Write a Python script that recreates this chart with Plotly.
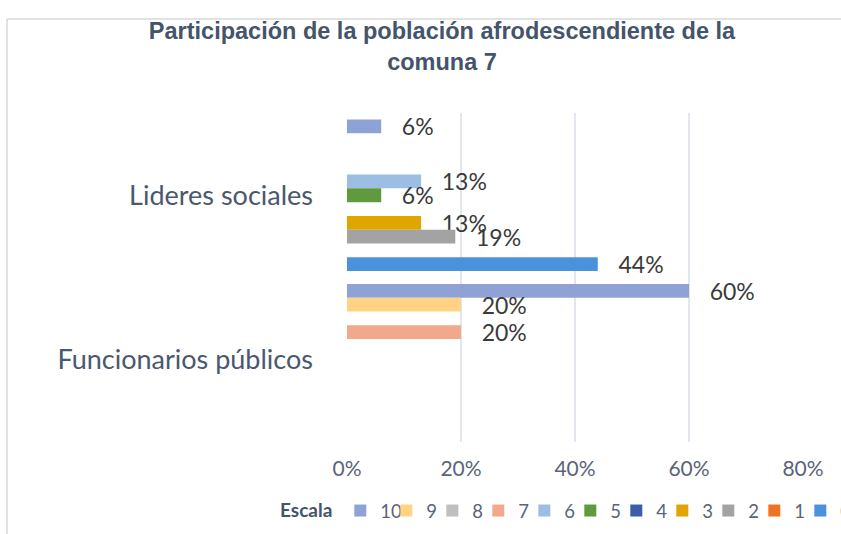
import plotly.graph_objects as go

categories = ["Lideres sociales", "Funcionarios públicos"]
series_names = ["10", "9", "8", "7", "6", "5", "4", "3", "2", "1", "0"]
lideres = [0.06, 0, 0, 0, 0.13, 0.06, 0, 0.13, 0.19, 0, 0.44]
funcionarios = [0.60, 0.20, 0, 0.20, 0, 0, 0, 0, 0, 0, 0]
colors = ["#8EA2D5", "#FFD383", "#BFBFBF", "#F2A88B", "#9CBEE3", "#5F9A3E",
          "#3A5EA9", "#E0A600", "#A3A3A3", "#EE7424", "#4A93DC"]
x_ticks = [0, 0.2, 0.4, 0.6, 0.8]
x_tick_labels = ["0%", "20%", "40%", "60%", "80%"]

W, H = 841, 534
ML, MR, MT, MB = 347, 38, 113, 92
PW, PH = W - ML - MR, H - MT - MB

def px_x(p):
    return (p - ML) / PW

def px_y(p):
    return (H - MB - p) / PH

fig = go.Figure()
for i, name in enumerate(series_names):
    vals = [lideres[i], funcionarios[i]]
    texts = ["   {:.0f}%".format(v * 100) if v > 0 else "" for v in vals]
    fig.add_trace(go.Bar(
        y=categories, x=vals, name=name, orientation="h",
        marker=dict(color=colors[i], line=dict(width=0)),
        text=texts, textposition="outside", constraintext="none",
        textfont=dict(family="Lato", size=23, color="#3A3A3A"),
        cliponaxis=False, hoverinfo="skip",
    ))

fig.update_layout(
    width=W, height=H,
    margin=dict(l=ML, r=MR, t=MT, b=MB, autoexpand=False),
    paper_bgcolor="white", plot_bgcolor="white",
    barmode="group", bargap=0.08, bargroupgap=0,
    title=dict(
        text="<b>Participación de la población afrodescendiente de la<br>comuna 7</b>",
        font=dict(family="Liberation Sans, Arial", size=23.5, color="#44546A"),
        x=442 / W, xanchor="center", xref="container",
        y=1 - 39 / H, yanchor="top", yref="container",
    ),
    xaxis=dict(
        range=[0, 0.8], tickvals=x_ticks, ticktext=x_tick_labels,
        showgrid=True, gridcolor="#E1E6EF", gridwidth=1.5,
        zeroline=False, showline=False,
        tickfont=dict(family="Lato", size=21, color="#5A6478"),
        ticklabelstandoff=12,
    ),
    yaxis=dict(
        categoryorder="array", categoryarray=categories, autorange="reversed",
        showgrid=False, zeroline=False, showline=False,
        tickfont=dict(family="Lato", size=27, color="#4A5870"),
        ticklabelstandoff=33,
    ),
    legend=dict(
        orientation="h", x=px_x(278), xanchor="left", y=px_y(511), yanchor="middle",
        title=dict(text="<b>Escala</b>", font=dict(family="Lato", size=19, color="#44546A"), side="left"),
        font=dict(family="Lato", size=18.5, color="#5A6478"),
        entrywidth=1, itemwidth=30, bgcolor="rgba(0,0,0,0)",
    ),
    showlegend=True,
)

fig.add_shape(type="line", xref="paper", yref="paper",
              x0=px_x(7), x1=px_x(7), y0=px_y(19), y1=px_y(540),
              line=dict(color="#D9D9D9", width=1.5))
fig.add_shape(type="line", xref="paper", yref="paper",
              x0=px_x(7), x1=px_x(850), y0=px_y(19), y1=px_y(19),
              line=dict(color="#D9D9D9", width=1.5))

fig.write_html(
    "out.html",
    config={"displayModeBar": False},
    post_script="document.body.style.margin='0';document.body.style.overflow='hidden';",
)
